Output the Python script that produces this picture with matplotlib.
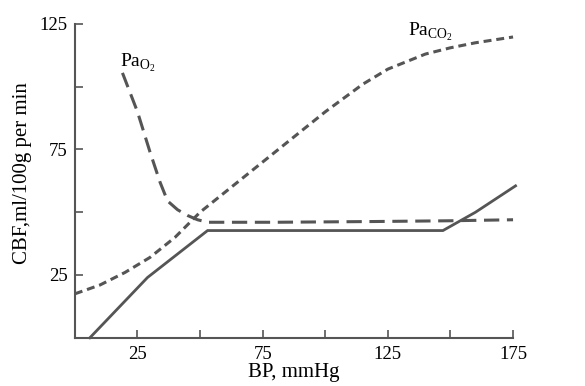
import matplotlib
matplotlib.use("Agg")
import matplotlib.pyplot as plt

# Solid line: CBF vs BP (autoregulation)
bp_x = [6, 29, 53, 147, 160, 176]
bp_y = [0, 24, 42.7, 42.7, 50, 60.5]

# PaO2 (long dashes)
o2_x = [19, 25, 30, 34, 37, 41, 45, 49, 53, 80, 120, 150, 175]
o2_y = [105.5, 90, 74, 62, 54.5, 51, 48.7, 47, 46, 46, 46.3, 46.6, 47]

# PaCO2 (short dashes)
co2_x = [0, 10, 20, 30, 40, 50, 60, 75, 90, 100, 115, 125, 140, 150, 160, 175]
co2_y = [17.5, 21, 26, 32, 40, 50, 58, 70, 82, 90, 101, 107, 113, 115.5, 117.5, 119.8]

xticks = [25, 50, 75, 100, 125, 150, 175]
xticklabels = ["25", "", "75", "", "125", "", "175"]
yticks = [25, 50, 75, 100, 125]
yticklabels = ["25", "", "75", "", "125"]

plt.rcParams['font.family'] = ['Liberation Serif', 'DejaVu Serif']
col = "#555555"

fig = plt.figure(figsize=(5.85, 3.86), dpi=100)
ax = fig.add_axes([0.128, 0.125, 0.749, 0.813])

ax.plot(bp_x, bp_y, color=col, lw=2.0, solid_joinstyle='miter')
ax.plot(o2_x, o2_y, color=col, lw=2.2, dashes=(5, 2.5))
ax.plot(co2_x, co2_y, color=col, lw=2.2, dashes=(2.6, 1.6))

ax.set_xlim(0, 175)
ax.set_ylim(0, 125)
for s in ['top', 'right']:
    ax.spines[s].set_visible(False)
for s in ['left', 'bottom']:
    ax.spines[s].set_color(col)
    ax.spines[s].set_linewidth(1.5)

ax.set_xticks(xticks)
ax.set_xticklabels(xticklabels)
ax.set_yticks(yticks)
ax.set_yticklabels(yticklabels)
ax.tick_params(direction='in', length=6, width=1.2, color=col, labelsize=13.5)
ax.tick_params(axis='x', pad=6)
ax.tick_params(axis='y', pad=5)

ax.set_xlabel("BP, mmHg", fontsize=15, labelpad=0)
ax.set_ylabel("CBF,ml/100g per min", fontsize=15)
ax.yaxis.set_label_coords(-0.098, 0.525)

ax.text(18, 105, r"Pa$_{\mathregular{O_2}}$", fontsize=14, ha='left', va='bottom')
ax.text(133, 117.3, r"Pa$_{\mathregular{CO_2}}$", fontsize=14, ha='left', va='bottom')

for l in ax.lines:
    l.set_clip_on(False)

fig.savefig("out.png", dpi=100)
